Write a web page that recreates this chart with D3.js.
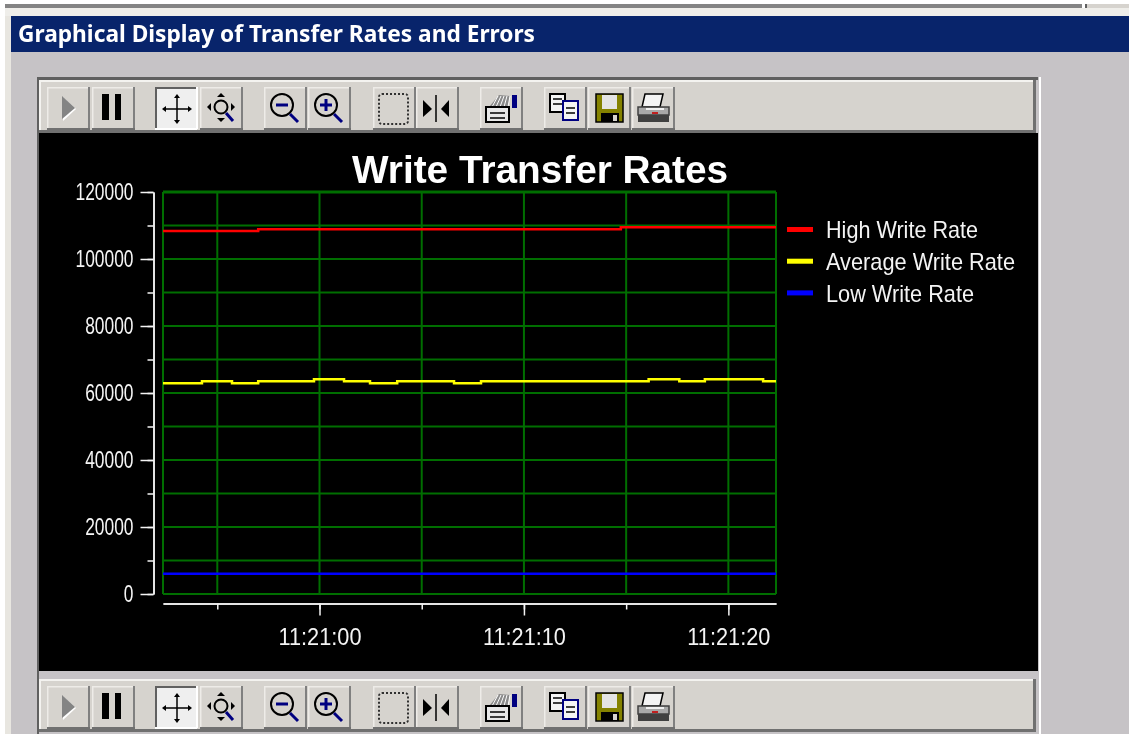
<!DOCTYPE html>
<html>
<head>
<meta charset="utf-8">
<script src="https://cdn.jsdelivr.net/npm/d3@7"></script>
<style>
html, body { margin: 0; padding: 0; background: #fff; overflow: hidden; }
svg { display: block; filter: blur(0.45px); }
</style>
</head>
<body>
<div id="chart"></div>
<script>
// values, seconds are relative to 11:21:00
let chartTitle = "Write Transfer Rates";
let panelTitle = "Graphical Display of Transfer Rates and Errors";

let highSeconds = [-7.656, -3.0, -3.0, 14.74, 14.74, 22.33];
let highValues = [108360, 108360, 108870, 108870, 109460, 109460];

let avgSeconds = [-7.656, -5.75, -5.75, -4.28, -4.28, -3.0, -3.0, -0.27, -0.27, 1.2, 1.2, 2.47, 2.47, 3.8, 3.8, 6.58, 6.58, 7.9, 7.9, 16.1, 16.1, 17.6, 17.6, 18.85, 18.85, 21.7, 21.7, 22.33];
let avgValues = [62900, 62900, 63500, 63500, 62900, 62900, 63500, 63500, 64100, 64100, 63500, 63500, 62900, 62900, 63500, 63500, 62900, 62900, 63500, 63500, 64100, 64100, 63500, 63500, 64100, 64100, 63500, 63500];

let lowSeconds = [-7.656, 22.33];
let lowValues = [6060, 6060];

let legendNames = ["High Write Rate", "Average Write Rate", "Low Write Rate"];
let legendColors = ["#ff0000", "#ffff00", "#0000ff"];
let legendWidths = [152, 189, 148];

let yMajorTicks = [0, 20000, 40000, 60000, 80000, 100000, 120000];
let yGridTicks = [0, 10000, 20000, 30000, 40000, 50000, 60000, 70000, 80000, 90000, 100000, 110000, 120000];
let xMajorTicks = [0, 10, 20];
let xGridTicks = [-5, 0, 5, 10, 15, 20];

let toolbarButtons = [
    {icon: "play", x: 47}, {icon: "pause", x: 92},
    {icon: "pan", x: 155}, {icon: "zoombox", x: 200},
    {icon: "zoomout", x: 264}, {icon: "zoomin", x: 308},
    {icon: "rect", x: 373}, {icon: "split", x: 416},
    {icon: "props", x: 480},
    {icon: "copy", x: 544}, {icon: "save", x: 588}, {icon: "print", x: 632}
];

function drawChart() {
    let win_width = 1129;
    let win_height = 734;

    let svg = d3.select("#chart")
        .append("svg")
        .attr("width", win_width)
        .attr("height", win_height)
        .attr("viewBox", "0 0 " + win_width + " " + win_height);

    function box(parent, x, y, w, h, fill) {
        return parent.append("rect").attr("x", x).attr("y", y).attr("width", w).attr("height", h).attr("fill", fill);
    }

    // window chrome
    box(svg, 0, 0, win_width, win_height, "#ffffff");
    box(svg, 5, 4, 1077, 4, "#848484");
    box(svg, 1085, 4, 2, 6, "#606060");
    box(svg, 1087, 4, 42, 8, "#d6d3ce");
    box(svg, 5, 8, 1124, 8, "#efeeea");
    box(svg, 5, 16, 6, 718, "#e8e6e0");
    box(svg, 11, 16, 1118, 718, "#c6c3c6");
    box(svg, 11, 16, 1118, 36, "#08246b");

    svg.append("text")
        .attr("x", 18)
        .attr("y", 42)
        .attr("textLength", 517)
        .attr("lengthAdjust", "spacingAndGlyphs")
        .style("font-family", "'Noto Sans', sans-serif")
        .style("font-weight", "bold")
        .style("font-size", "24px")
        .attr("fill", "#ffffff")
        .text(panelTitle);

    // frame around toolbars and plot
    box(svg, 37, 77, 1001, 3, "#606060");
    box(svg, 37, 77, 2, 657, "#606060");
    box(svg, 1039, 77, 2, 657, "#ffffff");
    box(svg, 39, 133, 999, 538, "#000000");

    drawToolbar(svg, 78);
    drawToolbar(svg, 677);

    // scales
    let t0 = new Date(2000, 0, 1, 11, 21, 0);
    let toTime = function (s) { return new Date(t0.getTime() + s * 1000); };

    let x = d3.scaleTime().domain([toTime(-7.656), toTime(22.33)]).range([163, 776]);
    let y = d3.scaleLinear().domain([0, 120000]).range([594, 192]);

    // grid
    let grid = svg.append("g").attr("stroke", "#006e00").attr("stroke-width", 2);
    grid.selectAll(".hgrid")
        .data(yGridTicks)
        .join("line")
        .attr("x1", x.range()[0])
        .attr("x2", x.range()[1])
        .attr("y1", function (d) { return y(d); })
        .attr("y2", function (d) { return y(d); })
        .attr("stroke-width", function (d) { return d == 120000 ? 3 : 2; });
    grid.selectAll(".vgrid")
        .data(xGridTicks.map(toTime).concat(x.domain()))
        .join("line")
        .attr("x1", function (d) { return x(d); })
        .attr("x2", function (d) { return x(d); })
        .attr("y1", y.range()[1])
        .attr("y2", y.range()[0]);

    // series
    let line = d3.line()
        .x(function (d) { return x(toTime(d[0])); })
        .y(function (d) { return y(d[1]); });

    let series = [
        d3.zip(lowSeconds, lowValues),
        d3.zip(avgSeconds, avgValues),
        d3.zip(highSeconds, highValues)
    ];
    let seriesColors = [legendColors[2], legendColors[1], legendColors[0]];

    svg.selectAll(".series")
        .data(series)
        .join("path")
        .attr("fill", "none")
        .attr("stroke", function (d, i) { return seriesColors[i]; })
        .attr("stroke-width", 2.5)
        .attr("d", line);

    // axes
    let yAxis = svg.append("g")
        .attr("transform", "translate(153.5,0)")
        .call(d3.axisLeft(y).tickValues(yMajorTicks).tickFormat(d3.format("d")).tickSize(13).tickSizeOuter(0).tickPadding(7));
    let yMinor = svg.append("g")
        .attr("transform", "translate(153.5,0)")
        .call(d3.axisLeft(y).tickValues(yGridTicks).tickFormat("").tickSize(6).tickSizeOuter(0));

    let xAxis = svg.append("g")
        .attr("transform", "translate(0,603.5)")
        .call(d3.axisBottom(x).tickValues(xMajorTicks.map(toTime)).tickFormat(d3.timeFormat("%H:%M:%S")).tickSize(12).tickSizeOuter(0).tickPadding(12));
    let xMinor = svg.append("g")
        .attr("transform", "translate(0,603.5)")
        .call(d3.axisBottom(x).tickValues(xGridTicks.map(toTime)).tickFormat("").tickSize(6).tickSizeOuter(0));

    [yAxis, yMinor, xAxis, xMinor].forEach(function (a) {
        a.selectAll("path, line").attr("stroke", "#f4f4f4").attr("stroke-width", 1.5);
        a.selectAll("text")
            .attr("fill", "#f4f4f4")
            .attr("lengthAdjust", "spacingAndGlyphs")
            .style("font-family", "'Liberation Sans', sans-serif")
            .style("font-size", "24px");
    });
    yAxis.selectAll("text").attr("textLength", function (d) { return String(d).length * 9.67; });
    xAxis.selectAll("text").attr("textLength", 83);

    // title
    svg.append("text")
        .attr("x", 540)
        .attr("y", 183)
        .attr("text-anchor", "middle")
        .attr("textLength", 376)
        .attr("lengthAdjust", "spacingAndGlyphs")
        .attr("fill", "#ffffff")
        .style("font-family", "'Liberation Sans', sans-serif")
        .style("font-weight", "bold")
        .style("font-size", "39px")
        .text(chartTitle);

    // legend
    let legend = svg.append("g");
    legend.selectAll("rect")
        .data(legendNames)
        .join("rect")
        .attr("x", 787)
        .attr("y", function (d, i) { return 227 + i * 31.7; })
        .attr("width", 26)
        .attr("height", 5)
        .attr("fill", function (d, i) { return legendColors[i]; });
    legend.selectAll("text")
        .data(legendNames)
        .join("text")
        .attr("x", 826)
        .attr("y", function (d, i) { return 238 + i * 31.8; })
        .attr("textLength", function (d, i) { return legendWidths[i]; })
        .attr("lengthAdjust", "spacingAndGlyphs")
        .attr("fill", "#f4f4f4")
        .style("font-family", "'Liberation Sans', sans-serif")
        .style("font-size", "24px")
        .text(function (d) { return d; });

    function drawToolbar(parent, top) {
        let bar = parent.append("g").attr("transform", "translate(0," + top + ")");
        box(bar, 39, 2, 997, 53, "#d6d3ce");
        box(bar, 39, 2, 997, 2, "#f4f3f0");
        box(bar, 39, 2, 2, 53, "#f4f3f0");
        box(bar, 1033, 2, 3, 53, "#707070");
        box(bar, 39, 52, 997, 3, "#707070");

        let buttons = bar.selectAll(".btn")
            .data(toolbarButtons)
            .join("g")
            .attr("transform", function (d) { return "translate(" + d.x + ",9)"; });

        buttons.each(function (d) {
            let b = d3.select(this);
            if (d.icon == "pan") {
                box(b, 0, 0, 42, 42, "#efefef");
                box(b, 0, 0, 42, 2, "#606060");
                box(b, 0, 0, 2, 42, "#606060");
                box(b, 0, 41, 42, 2, "#ffffff");
                box(b, 41, 0, 2, 42, "#ffffff");
            } else {
                box(b, 0, 0, 43, 43, "#d6d3ce");
                box(b, 0, 0, 43, 1.5, "#eeece8");
                box(b, 0, 0, 1.5, 43, "#eeece8");
                box(b, 41, 0, 2, 43, "#808080");
                box(b, 0, 41, 43, 2, "#707070");
            }
            drawIcon(b, d.icon);
        });
    }

    function tri(parent, pts, fill) {
        return parent.append("polygon").attr("points", pts).attr("fill", fill);
    }
    function seg(parent, x1, y1, x2, y2, color, w) {
        return parent.append("line").attr("x1", x1).attr("y1", y1).attr("x2", x2).attr("y2", y2)
            .attr("stroke", color).attr("stroke-width", w);
    }
    function outline(parent, x, y, w, h, color, sw, fill) {
        return parent.append("rect").attr("x", x).attr("y", y).attr("width", w).attr("height", h)
            .attr("fill", fill || "none").attr("stroke", color).attr("stroke-width", sw);
    }

    function drawIcon(b, icon) {
        let black = "#000000", navy = "#000080";
        if (icon == "play") {
            tri(b, "16,10 29,22 16,34", "#ffffff");
            tri(b, "15,9 28,21 15,32", "#848484");
        } else if (icon == "pause") {
            box(b, 10, 7, 7, 26, black);
            box(b, 23, 7, 6, 26, black);
        } else if (icon == "pan") {
            seg(b, 9, 22, 35, 22, black, 1.5);
            seg(b, 22, 9, 22, 35, black, 1.5);
            tri(b, "22,7 19,11 25,11", black);
            tri(b, "22,37 19,33 25,33", black);
            tri(b, "7,22 11,19 11,25", black);
            tri(b, "37,22 33,19 33,25", black);
        } else if (icon == "zoombox") {
            b.append("circle").attr("cx", 21).attr("cy", 20).attr("r", 6.5).attr("fill", "none").attr("stroke", black).attr("stroke-width", 2);
            seg(b, 26, 26, 33, 34, navy, 3);
            tri(b, "21,6 17,10 25,10", black);
            tri(b, "21,35 17,31 25,31", black);
            tri(b, "7,20 11,16 11,24", black);
            tri(b, "35,20 31,16 31,24", black);
        } else if (icon == "zoomout" || icon == "zoomin") {
            b.append("circle").attr("cx", 18).attr("cy", 18).attr("r", 11).attr("fill", "none").attr("stroke", black).attr("stroke-width", 2);
            seg(b, 26, 27, 34, 35, navy, 3);
            seg(b, 12, 18, 24, 18, navy, 3);
            if (icon == "zoomin") seg(b, 18, 12, 18, 24, navy, 3);
        } else if (icon == "rect") {
            outline(b, 6, 7, 29, 30, "#303030", 2).attr("stroke-dasharray", "2,2").attr("rx", 3);
        } else if (icon == "split") {
            seg(b, 20, 8, 20, 35, black, 1.5);
            tri(b, "7,13 16,22 7,30", black);
            tri(b, "33,13 25,22 33,30", black);
        } else if (icon == "props") {
            tri(b, "9,20 19,8 30,9 28,20", "#8a8a8a");
            d3.range(0, 5).forEach(function (i) {
                seg(b, 12 + i * 4, 20, 18 + i * 3, 9, "#ffffff", 1);
            });
            outline(b, 6, 20, 23, 15, black, 2, "#e8e8e8");
            seg(b, 10, 26, 25, 26, black, 1.5);
            seg(b, 10, 31, 25, 31, black, 1.5);
            box(b, 32, 8, 5, 13, navy);
        } else if (icon == "copy") {
            outline(b, 6, 7, 15, 18, black, 2, "#f4f4f4");
            seg(b, 9, 12, 18, 12, black, 1.5);
            seg(b, 9, 17, 18, 17, black, 1.5);
            outline(b, 19, 14, 15, 19, navy, 2, "#f4f4f4");
            seg(b, 22, 21, 31, 21, black, 1.5);
            seg(b, 22, 26, 31, 26, black, 1.5);
        } else if (icon == "save") {
            box(b, 8, 7, 27, 28, "#848200");
            outline(b, 8, 7, 27, 28, black, 1.5);
            box(b, 14, 8, 15, 14, "#e4e4e4");
            box(b, 13, 26, 18, 9, black);
            box(b, 25, 28, 4, 6, "#d6d3ce");
        } else if (icon == "print") {
            tri(b, "13,7 31,7 28,20 10,20", "#f4f4f4").attr("stroke", black).attr("stroke-width", 1.5);
            outline(b, 6, 20, 31, 8, "#404040", 1.5, "#a8a8a8");
            box(b, 6, 28, 31, 7, "#404040");
            box(b, 20, 25, 6, 2, "#c02020");
            box(b, 14, 21, 18, 2, "#f0f0f0");
        }
    }
}

drawChart();
</script>
</body>
</html>
